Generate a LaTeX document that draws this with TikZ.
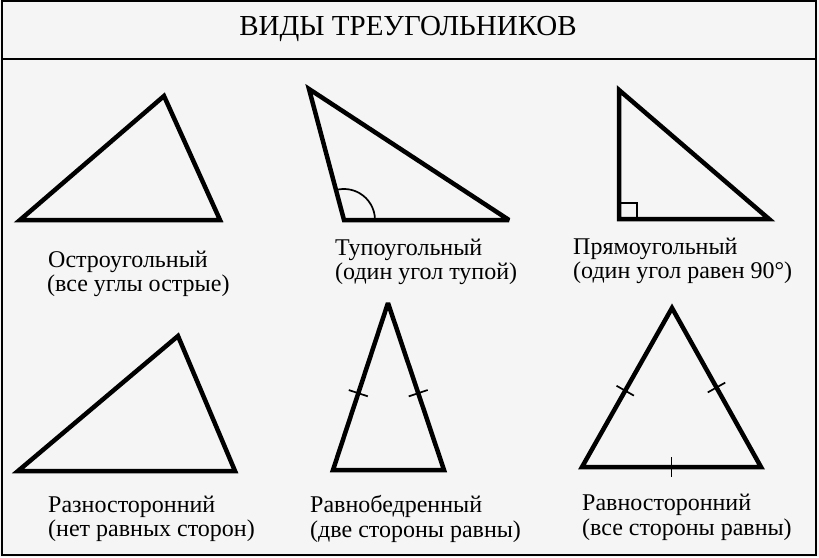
\documentclass[tikz,border=0pt]{standalone}
\usepackage{fontspec}
\setmainfont{Liberation Serif}
\usetikzlibrary{calc}
\definecolor{bg}{RGB}{245,245,245}
\tikzset{
  tri/.style={line width=4.5pt, line join=miter, miter limit=3},
  thin mark/.style={line width=1.7pt},
  lbl/.style={anchor=base west, inner sep=0pt, font=\fontsize{24}{28}\selectfont},
  frame line/.style={line width=1.5pt},
}
\begin{document}
\begin{tikzpicture}[x=1pt,y=-1pt]
\useasboundingbox (0,0) rectangle (819,557);
\fill[bg] (0,0) rectangle (819,557);
\draw[frame line] (2,1) rectangle (816,555);
\draw[line width=2.2pt] (2,59) -- (816,59);
\node[anchor=base, inner sep=0pt, font=\fontsize{29}{33}\selectfont] (title) at (408,35) {ВИДЫ ТРЕУГОЛЬНИКОВ};

% 1 acute
\coordinate (a1) at (20,220); \coordinate (b1) at (164,96); \coordinate (c1) at (220,220);
\draw[tri] (a1) -- (b1) -- (c1) -- cycle;
\node[lbl] (l1a) at (48,267) {Остроугольный};
\node[lbl] (l1b) at (47,291) {(все углы острые)};

% 2 obtuse
\coordinate (a2) at (309,89); \coordinate (b2) at (344,220); \coordinate (c2) at (509,220);
\draw[tri] (a2) -- (b2) -- (c2) -- cycle;
\draw[thin mark] ($(b2)+(31,0)$) arc[start angle=0, end angle=105, radius=31pt];
\node[lbl] (l2a) at (335,255) {Тупоугольный};
\node[lbl] (l2b) at (335,279) {(один угол тупой)};

% 3 right
\coordinate (a3) at (619,90); \coordinate (b3) at (619,219); \coordinate (c3) at (769,219);
\draw[tri] (a3) -- (b3) -- (c3) -- cycle;
\draw[thin mark] (619,203) -- (637,203) -- (637,219);
\node[lbl] (l3a) at (573,254) {Прямоугольный};
\node[lbl] (l3b) at (573,278) {(один угол равен 90°)};

% 4 scalene
\coordinate (a4) at (18,471); \coordinate (b4) at (178,336); \coordinate (c4) at (235,471);
\draw[tri] (a4) -- (b4) -- (c4) -- cycle;
\node[lbl] (l4a) at (48,512) {Разносторонний};
\node[lbl] (l4b) at (48,536) {(нет равных сторон)};

% 5 isosceles
\coordinate (a5) at (388,303); \coordinate (b5) at (333,470); \coordinate (c5) at (444,470);
\draw[tri] (a5) -- (b5) -- (c5) -- cycle;
\coordinate (m5a) at ($(a5)!0.54!(b5)$); \coordinate (m5b) at ($(a5)!0.54!(c5)$);
\draw[thin mark] ($(m5a)!10pt!90:(b5)$) -- ($(m5a)!10pt!-90:(b5)$);
\draw[thin mark] ($(m5b)!10pt!90:(c5)$) -- ($(m5b)!10pt!-90:(c5)$);
\node[lbl] (l5a) at (310,512) {Равнобедренный};
\node[lbl] (l5b) at (310,537) {(две стороны равны)};

% 6 equilateral
\coordinate (a6) at (672,308); \coordinate (b6) at (582,467); \coordinate (c6) at (761,467);
\draw[tri] (a6) -- (b6) -- (c6) -- cycle;
\coordinate (m6a) at ($(a6)!0.52!(b6)$); \coordinate (m6b) at ($(a6)!0.5!(c6)$); \coordinate (m6c) at ($(b6)!0.5!(c6)$);
\draw[thin mark] ($(m6a)!10pt!90:(b6)$) -- ($(m6a)!10pt!-90:(b6)$);
\draw[thin mark] ($(m6b)!10pt!90:(c6)$) -- ($(m6b)!10pt!-90:(c6)$);
\draw[thin mark] ($(m6c)!10pt!90:(c6)$) -- ($(m6c)!10pt!-90:(c6)$);
\node[lbl] (l6a) at (582,510) {Равносторонний};
\node[lbl] (l6b) at (582,535) {(все стороны равны)};
\end{tikzpicture}
\end{document}
